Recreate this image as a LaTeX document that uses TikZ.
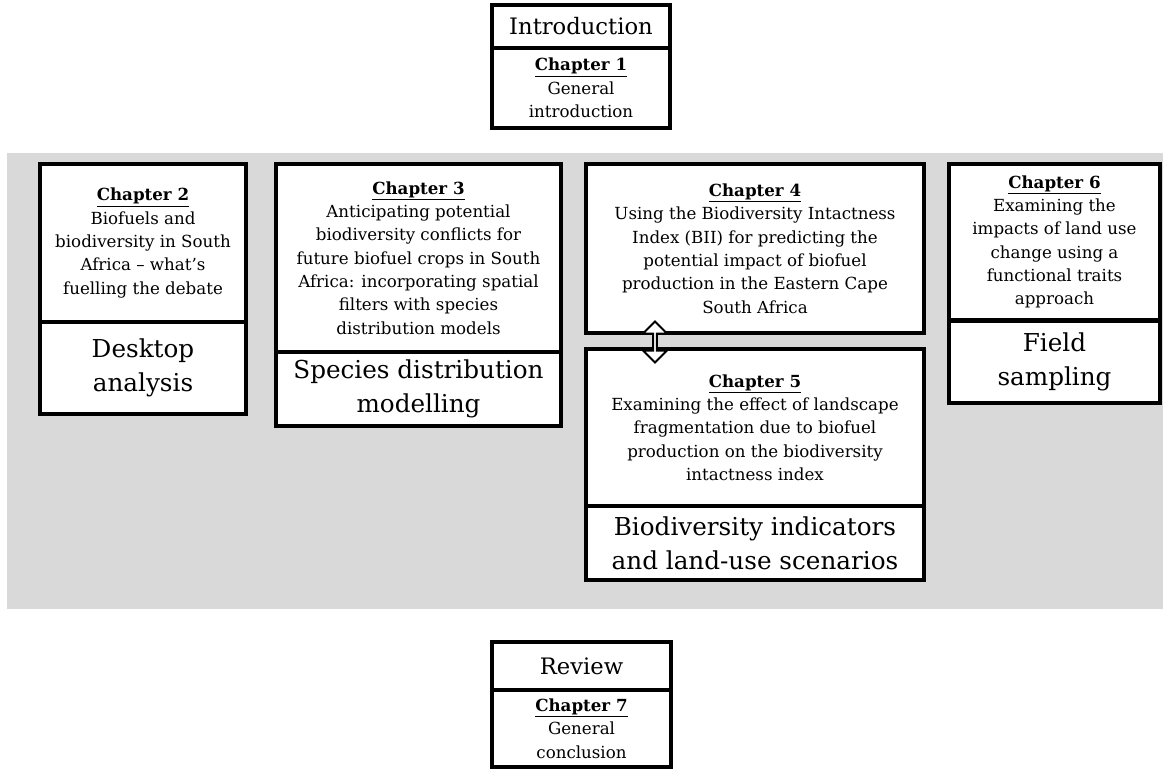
\documentclass[tikz,border=0pt]{standalone}
\usepackage{fontspec}
\setmainfont{DejaVu Serif}
\usetikzlibrary{shapes.arrows}

\newcommand{\chaphead}[1]{\underline{\textbf{Chapter #1}}}

\begin{document}
\begin{tikzpicture}[x=0.75pt, y=-0.75pt]

\useasboundingbox (0,0) rectangle (1163,769);

%% styles for the thesis outline
\tikzstyle{part}=[rectangle, draw=black, line width=2.3pt, fill=white, anchor=north west, inner sep=0pt, outer sep=0pt, align=center]
\tikzstyle{chapter}=[part, font=\fontsize{12.5}{17.5}\selectfont]
\tikzstyle{method}=[part, font=\fontsize{18.5}{25.5}\selectfont]
\tikzstyle{heading}=[part, font=\fontsize{17}{20}\selectfont]

\def\px{0.75pt}

%% grey band behind the research chapters
\fill[black!15] (7,153) rectangle (1163,609);

% Introduction
\node[heading, minimum width=178*\px, minimum height=43*\px] (intro) at (492,5) {Introduction};
\node[chapter, minimum width=178*\px, minimum height=80*\px] (ch1) at (492,48) {\chaphead{1}\\General\\introduction};

% Chapter 2
\node[chapter, minimum width=206*\px, minimum height=158*\px] (ch2) at (40,164) {\chaphead{2}\\Biofuels and\\biodiversity in South\\Africa -- what’s\\fuelling the debate};
\node[method, minimum width=206*\px, minimum height=92*\px] (ch2-m) at (40,322) {Desktop\\analysis};

% Chapter 3
\node[chapter, minimum width=285*\px, minimum height=188*\px] (ch3) at (276,164) {\chaphead{3}\\Anticipating potential\\biodiversity conflicts for\\future biofuel crops in South\\Africa: incorporating spatial\\filters with species\\distribution models};
\node[method, minimum width=285*\px, minimum height=74*\px] (ch3-m) at (276,352) {Species distribution\\modelling};

% Chapter 4 and 5
\node[chapter, minimum width=338*\px, minimum height=169*\px] (ch4) at (586,164) {\chaphead{4}\\Using the Biodiversity Intactness\\Index (BII) for predicting the\\potential impact of biofuel\\production in the Eastern Cape\\South Africa};
\node[chapter, minimum width=338*\px, minimum height=157*\px] (ch5) at (586,349) {\chaphead{5}\\Examining the effect of landscape\\fragmentation due to biofuel\\production on the biodiversity\\intactness index};
\node[method, minimum width=338*\px, minimum height=74*\px] (ch5-m) at (586,506) {Biodiversity indicators\\and land-use scenarios};

% Chapter 6
\node[chapter, minimum width=211*\px, minimum height=156*\px] (ch6) at (949,164) {\chaphead{6}\\Examining the\\impacts of land use\\change using a\\functional traits\\approach};
\node[method, minimum width=211*\px, minimum height=82*\px] (ch6-m) at (949,321) {Field\\sampling};

% Review
\node[heading, minimum width=179*\px, minimum height=48*\px] (review) at (492,642) {Review};
\node[chapter, minimum width=179*\px, minimum height=77*\px] (ch7) at (492,690) {\chaphead{7}\\General\\conclusion};

% link between chapter 4 and 5
\node[double arrow, draw=black, fill=white, line width=1.5pt, shape border rotate=90,
      minimum height=41*\px, minimum width=24*\px, double arrow head extend=5.5*\px,
      inner sep=0pt] (link) at (655,342) {};

\end{tikzpicture}
\end{document}
